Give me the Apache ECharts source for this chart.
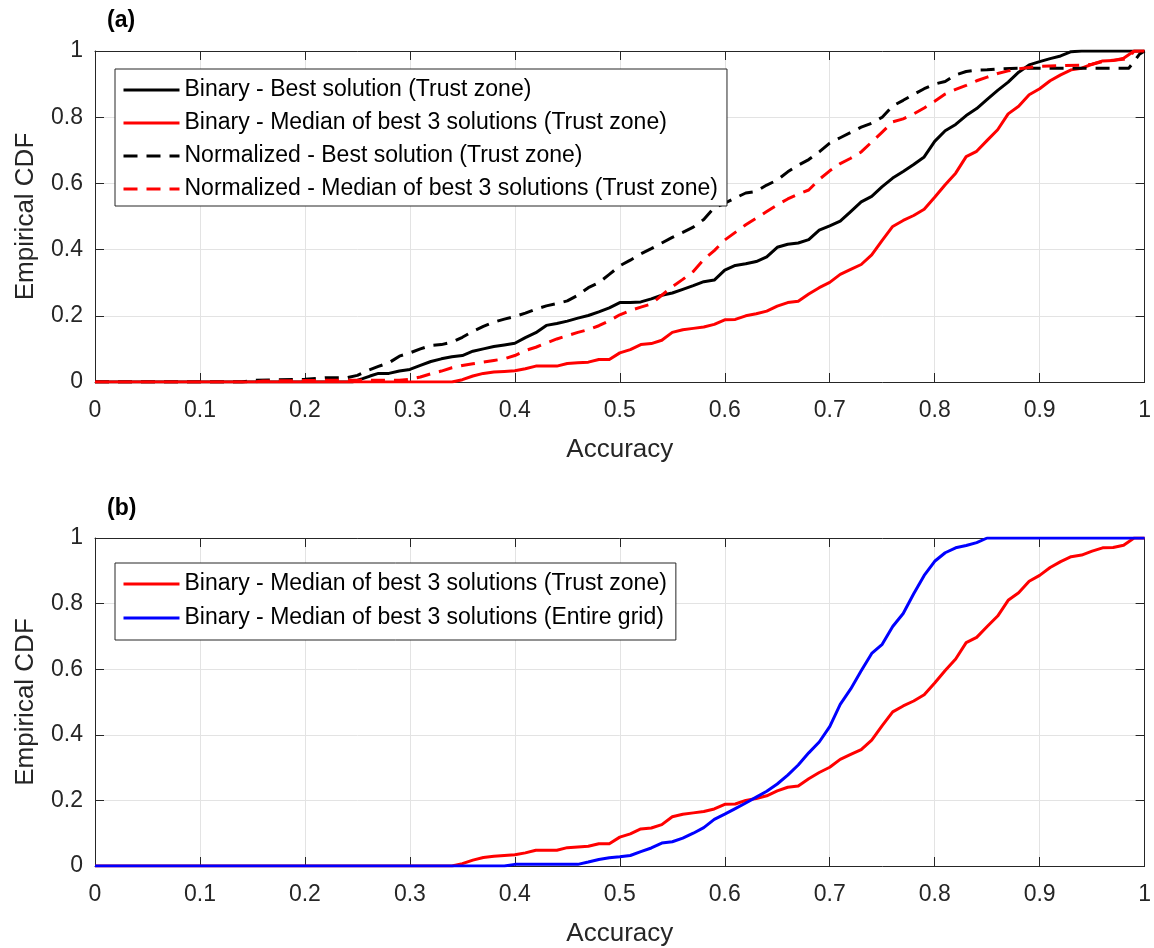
<!DOCTYPE html>
<html>
<head>
<meta charset="utf-8">
<script src="https://cdn.jsdelivr.net/npm/echarts@6/dist/echarts.min.js"></script>
<style>
  html, body { margin: 0; padding: 0; background: #fff; }
  #chart { width: 1154px; height: 948px; }
</style>
</head>
<body>
<div id="chart"></div>
<script>
// Empirical CDF curves, [accuracy, cumulative fraction]
const binaryBestTrust = [
  [0,0],[0.245,0],[0.255,0.01],[0.262,0.018],[0.27,0.026],[0.28,0.026],[0.29,0.033],[0.30,0.038],
  [0.31,0.05],[0.32,0.062],[0.33,0.07],[0.34,0.076],[0.35,0.08],[0.36,0.093],[0.37,0.1],[0.38,0.107],
  [0.39,0.112],[0.40,0.117],[0.41,0.134],[0.42,0.149],[0.43,0.171],[0.44,0.177],[0.45,0.184],[0.46,0.193],
  [0.47,0.201],[0.48,0.212],[0.49,0.224],[0.50,0.24],[0.51,0.24],[0.52,0.242],[0.53,0.251],[0.54,0.262],
  [0.55,0.269],[0.56,0.28],[0.57,0.291],[0.58,0.303],[0.59,0.308],[0.60,0.338],[0.61,0.352],[0.62,0.357],
  [0.63,0.364],[0.64,0.378],[0.65,0.407],[0.66,0.416],[0.67,0.42],[0.68,0.43],[0.69,0.459],[0.70,0.472],
  [0.71,0.486],[0.72,0.515],[0.73,0.544],[0.74,0.561],[0.75,0.59],[0.76,0.616],[0.77,0.636],[0.78,0.657],
  [0.79,0.68],[0.80,0.727],[0.81,0.759],[0.82,0.778],[0.83,0.805],[0.84,0.826],[0.85,0.854],[0.86,0.881],
  [0.87,0.906],[0.88,0.936],[0.89,0.958],[0.90,0.968],[0.91,0.977],[0.92,0.985],[0.93,0.998],[0.94,1],[1,1]
];

const binaryMedianTrust = [
  [0,0],[0.34,0],[0.35,0.007],[0.36,0.018],[0.37,0.026],[0.38,0.03],[0.39,0.032],[0.40,0.034],
  [0.41,0.04],[0.42,0.048],[0.43,0.048],[0.44,0.048],[0.45,0.056],[0.46,0.058],[0.47,0.06],[0.48,0.068],
  [0.49,0.068],[0.50,0.088],[0.51,0.098],[0.52,0.113],[0.53,0.116],[0.54,0.126],[0.55,0.15],[0.56,0.158],
  [0.57,0.162],[0.58,0.166],[0.59,0.174],[0.60,0.188],[0.61,0.189],[0.62,0.2],[0.63,0.206],[0.64,0.214],
  [0.65,0.229],[0.66,0.24],[0.67,0.244],[0.68,0.266],[0.69,0.285],[0.70,0.301],[0.71,0.325],[0.72,0.34],
  [0.73,0.355],[0.74,0.384],[0.75,0.428],[0.76,0.47],[0.77,0.488],[0.78,0.503],[0.79,0.522],[0.80,0.558],
  [0.81,0.596],[0.82,0.631],[0.83,0.681],[0.84,0.697],[0.85,0.73],[0.86,0.762],[0.87,0.81],[0.88,0.833],
  [0.89,0.868],[0.90,0.886],[0.91,0.91],[0.92,0.928],[0.93,0.943],[0.94,0.948],[0.95,0.96],[0.96,0.97],
  [0.97,0.971],[0.98,0.978],[0.99,1],[1,1]
];

const normalizedBestTrust = [
  [0,0],[0.14,0],[0.15,0.005],[0.20,0.008],[0.22,0.013],[0.24,0.013],[0.25,0.02],[0.26,0.035],
  [0.27,0.047],[0.28,0.058],[0.29,0.078],[0.30,0.088],[0.31,0.1],[0.32,0.11],[0.33,0.113],[0.34,0.12],
  [0.35,0.135],[0.36,0.153],[0.37,0.168],[0.38,0.181],[0.39,0.19],[0.40,0.198],[0.41,0.208],[0.42,0.22],
  [0.43,0.23],[0.44,0.237],[0.45,0.245],[0.46,0.262],[0.47,0.285],[0.48,0.30],[0.49,0.325],[0.50,0.351],
  [0.51,0.368],[0.52,0.387],[0.53,0.403],[0.54,0.42],[0.55,0.437],[0.56,0.452],[0.57,0.468],[0.58,0.491],
  [0.59,0.527],[0.60,0.54],[0.61,0.556],[0.62,0.571],[0.63,0.576],[0.64,0.595],[0.65,0.61],[0.66,0.635],
  [0.67,0.655],[0.68,0.672],[0.69,0.695],[0.70,0.722],[0.71,0.738],[0.72,0.754],[0.73,0.77],[0.74,0.782],
  [0.75,0.8],[0.76,0.834],[0.77,0.851],[0.78,0.869],[0.79,0.886],[0.80,0.9],[0.81,0.908],[0.82,0.928],
  [0.83,0.938],[0.84,0.942],[0.85,0.943],[0.86,0.946],[0.88,0.948],[0.90,0.948],[0.95,0.948],[0.985,0.948],
  [0.995,0.99],[1,1]
];

const normalizedMedianTrust = [
  [0,0],[0.15,0],[0.16,0.003],[0.22,0.005],[0.29,0.005],[0.30,0.008],[0.31,0.015],[0.32,0.025],
  [0.33,0.033],[0.34,0.043],[0.35,0.05],[0.36,0.055],[0.37,0.06],[0.38,0.065],[0.39,0.07],[0.40,0.08],
  [0.41,0.095],[0.42,0.105],[0.43,0.118],[0.44,0.13],[0.45,0.14],[0.46,0.15],[0.47,0.158],[0.48,0.17],
  [0.49,0.185],[0.50,0.203],[0.51,0.216],[0.52,0.226],[0.53,0.236],[0.54,0.262],[0.55,0.288],[0.56,0.31],
  [0.57,0.334],[0.58,0.37],[0.59,0.397],[0.60,0.429],[0.61,0.452],[0.62,0.475],[0.63,0.495],[0.64,0.515],
  [0.65,0.535],[0.66,0.553],[0.67,0.568],[0.68,0.58],[0.69,0.612],[0.70,0.638],[0.71,0.66],[0.72,0.676],
  [0.73,0.695],[0.74,0.725],[0.75,0.755],[0.76,0.786],[0.77,0.795],[0.78,0.81],[0.79,0.828],[0.80,0.848],
  [0.81,0.87],[0.82,0.884],[0.83,0.896],[0.84,0.91],[0.85,0.921],[0.86,0.932],[0.87,0.94],[0.88,0.946],
  [0.89,0.95],[0.90,0.954],[0.92,0.956],[0.94,0.957],[0.95,0.96],[0.96,0.968],[0.97,0.972],[0.98,0.975],
  [0.985,0.98],[0.99,1],[1,1]
];

const binaryMedianGrid = [
  [0,0],[0.39,0],[0.40,0.005],[0.46,0.005],[0.47,0.012],[0.48,0.02],[0.49,0.025],[0.50,0.028],
  [0.51,0.032],[0.52,0.044],[0.53,0.055],[0.54,0.07],[0.55,0.074],[0.56,0.085],[0.57,0.1],[0.58,0.117],
  [0.59,0.142],[0.60,0.158],[0.61,0.175],[0.62,0.192],[0.63,0.21],[0.64,0.228],[0.65,0.25],[0.66,0.277],
  [0.67,0.308],[0.68,0.345],[0.69,0.378],[0.70,0.425],[0.71,0.493],[0.72,0.54],[0.73,0.595],[0.74,0.648],
  [0.75,0.676],[0.76,0.73],[0.77,0.77],[0.78,0.83],[0.79,0.886],[0.80,0.929],[0.81,0.955],[0.82,0.97],
  [0.83,0.977],[0.84,0.986],[0.85,1],[1,1]
];

const names = {
  binBest: 'Binary - Best solution (Trust zone)',
  binMed: 'Binary - Median of best 3 solutions (Trust zone)',
  normBest: 'Normalized - Best solution (Trust zone)',
  normMed: 'Normalized - Median of best 3 solutions (Trust zone)',
  binMedGrid: 'Binary - Median of best 3 solutions (Entire grid)'
};

const axisTitleX = 'Accuracy';
const axisTitleY = 'Empirical CDF';
const panelTags = ['(a)', '(b)'];

const FONT = '"Liberation Sans", Arial, Helvetica, sans-serif';
const AXIS_COLOR = '#262626';
const DASH = [14, 9];

const chart = echarts.init(document.getElementById('chart'), null, { renderer: 'canvas' });

function xMain(gridIndex) {
  return {
    type: 'value', gridIndex, min: 0, max: 1, interval: 0.1, position: 'bottom',
    name: axisTitleX, nameLocation: 'middle', nameGap: 55,
    nameTextStyle: { fontFamily: FONT, fontSize: 26, color: AXIS_COLOR },
    axisLine: { show: true, onZero: false, lineStyle: { color: AXIS_COLOR, width: 1 } },
    axisTick: { show: true, inside: true, length: 9, lineStyle: { color: AXIS_COLOR } },
    axisLabel: { fontFamily: FONT, fontSize: 23, color: AXIS_COLOR, margin: 17 },
    splitLine: { show: true, lineStyle: { color: '#e3e3e3', width: 1 } }
  };
}
function xTop(gridIndex) {
  return {
    type: 'value', gridIndex, min: 0, max: 1, interval: 0.1, position: 'top',
    axisLine: { show: true, onZero: false, lineStyle: { color: AXIS_COLOR, width: 1 } },
    axisTick: { show: true, inside: true, length: 9, lineStyle: { color: AXIS_COLOR } },
    axisLabel: { show: false }, splitLine: { show: false }
  };
}
function yMain(gridIndex) {
  return {
    type: 'value', gridIndex, min: 0, max: 1, interval: 0.2, position: 'left',
    name: axisTitleY, nameLocation: 'middle', nameGap: 56, nameRotate: 90,
    nameTextStyle: { fontFamily: FONT, fontSize: 26, color: AXIS_COLOR },
    axisLine: { show: true, onZero: false, lineStyle: { color: AXIS_COLOR, width: 1 } },
    axisTick: { show: true, inside: true, length: 9, lineStyle: { color: AXIS_COLOR } },
    axisLabel: { fontFamily: FONT, fontSize: 23, color: AXIS_COLOR, margin: 12 },
    splitLine: { show: true, lineStyle: { color: '#e3e3e3', width: 1 } }
  };
}
function yRight(gridIndex) {
  return {
    type: 'value', gridIndex, min: 0, max: 1, interval: 0.2, position: 'right',
    axisLine: { show: true, onZero: false, lineStyle: { color: AXIS_COLOR, width: 1 } },
    axisTick: { show: true, inside: true, length: 9, lineStyle: { color: AXIS_COLOR } },
    axisLabel: { show: false }, splitLine: { show: false }
  };
}

function curve(name, data, color, dashed, xi, yi) {
  return {
    name, type: 'line', data, xAxisIndex: xi, yAxisIndex: yi,
    showSymbol: false, symbol: 'none', smooth: false, silent: true,
    lineStyle: { color, width: 3, type: dashed ? DASH : 'solid', cap: 'butt', join: 'round' },
    itemStyle: { color },
    z: 3
  };
}

// Legend keys show only the line sample (no marker)
function legendAt(left, top, data, gap, padding) {
  return {
    orient: 'vertical', left, top, data,
    itemWidth: 56, itemHeight: 14, itemGap: gap, padding,
    selectedMode: false,
    itemStyle: { opacity: 0 },
    lineStyle: { width: 3 },
    backgroundColor: '#ffffff', borderColor: AXIS_COLOR, borderWidth: 1, borderRadius: 0,
    textStyle: { fontFamily: FONT, fontSize: 23, color: '#000', lineHeight: 26 }
  };
}

chart.setOption({
  animation: false,
  backgroundColor: '#ffffff',
  grid: [
    { left: 95, right: 9, top: 51, height: 331 },
    { left: 95, right: 9, top: 538, height: 332 }
  ],
  xAxis: [xMain(0), xTop(0), xMain(1), xTop(1)],
  yAxis: [yMain(0), yRight(0), yMain(1), yRight(1)],
  legend: [
    legendAt(115, 69, [names.binBest, names.binMed, names.normBest, names.normMed], 7, [8, 9, 4, 7]),
    legendAt(115, 563, [names.binMed, names.binMedGrid], 8, [8, 9, 9, 7])
  ],
  graphic: [
    { type: 'text', left: 107, top: 9, style: { text: panelTags[0], font: 'bold 23px ' + FONT, fill: '#000' } },
    { type: 'text', left: 107, top: 497, style: { text: panelTags[1], font: 'bold 23px ' + FONT, fill: '#000' } }
  ],
  series: [
    curve(names.binBest, binaryBestTrust, '#000000', false, 0, 0),
    curve(names.binMed, binaryMedianTrust, '#ff0000', false, 0, 0),
    curve(names.normBest, normalizedBestTrust, '#000000', true, 0, 0),
    curve(names.normMed, normalizedMedianTrust, '#ff0000', true, 0, 0),
    curve(names.binMed, binaryMedianTrust, '#ff0000', false, 2, 2),
    curve(names.binMedGrid, binaryMedianGrid, '#0000ff', false, 2, 2)
  ]
});
</script>
</body>
</html>
